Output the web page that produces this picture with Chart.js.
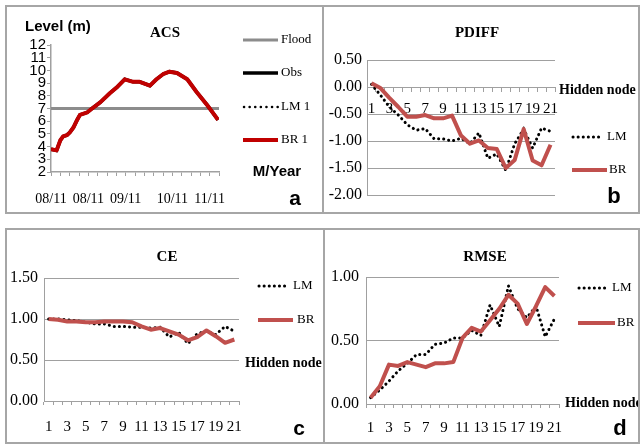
<!DOCTYPE html>
<html>
<head>
<meta charset="utf-8">
<script src="https://cdn.jsdelivr.net/npm/chart.js@4.4.1/dist/chart.umd.min.js"></script>
<style>
  html, body { margin: 0; padding: 0; background: #fff; }
  body { width: 640px; height: 446px; position: relative; overflow: hidden; }
  canvas { position: absolute; }
  .frame { position: absolute; box-sizing: border-box; border: 2px solid #a6a6a6; pointer-events: none; }
</style>
</head>
<body>
<canvas id="ca" width="317" height="207" style="left:6px;top:6px"></canvas>
<canvas id="cb" width="317" height="207" style="left:322px;top:6px"></canvas>
<canvas id="cc" width="318" height="215" style="left:6px;top:228px"></canvas>
<canvas id="cd" width="316" height="215" style="left:323px;top:228px"></canvas>
<div class="frame" style="left:5px;top:5px;width:319px;height:209px"></div>
<div class="frame" style="left:322px;top:5px;width:318px;height:209px"></div>
<div class="frame" style="left:5px;top:228px;width:320px;height:216px"></div>
<div class="frame" style="left:323px;top:228px;width:317px;height:216px"></div>
<script>
// ---------------- DATA ----------------
// Panel a: ACS water level (m) vs time (tick index along the M/Year axis)
const acsTime  = [0, 0.6, 1.0, 1.3, 1.7, 2.0, 2.4, 2.8, 3.1, 3.9, 4.4, 5.3, 6.3, 7.1, 7.9, 8.8, 9.5, 10.6, 11.3, 12.0, 12.7, 13.5, 14.6, 15.6, 16.7, 17.9];
const acsObs   = [3.8, 3.7, 4.5, 4.8, 4.9, 5.1, 5.5, 6.1, 6.5, 6.7, 7.0, 7.5, 8.2, 8.7, 9.3, 9.1, 9.1, 8.8, 9.3, 9.7, 9.9, 9.8, 9.3, 8.3, 7.3, 6.1];
const acsLM1   = [3.8, 3.7, 4.5, 4.8, 4.9, 5.1, 5.5, 6.1, 6.5, 6.7, 7.0, 7.5, 8.2, 8.7, 9.3, 9.1, 9.1, 8.8, 9.3, 9.7, 9.9, 9.8, 9.3, 8.3, 7.3, 6.1];
const acsBR1   = [3.8, 3.7, 4.5, 4.8, 4.9, 5.1, 5.5, 6.1, 6.5, 6.7, 7.0, 7.5, 8.2, 8.7, 9.3, 9.1, 9.1, 8.8, 9.3, 9.7, 9.9, 9.8, 9.3, 8.3, 7.3, 6.1];
const floodLevel = 7;
const acsTickLabels = ['08/11','','','','08/11','','','','09/11','','','','','10/11','','','','11/11',''];

// Panels b-d: hidden node counts
const hiddenNodes = ['1','2','3','4','5','6','7','8','9','10','11','12','13','14','15','16','17','18','19','20','21'];

const pdiffLM = [0.05, -0.15, -0.37, -0.52, -0.70, -0.80, -0.77, -0.96, -0.96, -1.00, -0.95, -1.05, -0.85, -1.32, -1.24, -1.54, -1.05, -0.78, -1.13, -0.76, -0.82];
const pdiffBR = [0.07, -0.02, -0.20, -0.37, -0.55, -0.55, -0.52, -0.58, -0.58, -0.53, -0.90, -1.05, -0.99, -1.13, -1.15, -1.50, -1.35, -0.78, -1.36, -1.45, -1.07];

const ceLM = [1.00, 1.00, 0.99, 0.98, 0.96, 0.94, 0.94, 0.91, 0.91, 0.90, 0.90, 0.89, 0.90, 0.78, 0.84, 0.70, 0.82, 0.85, 0.81, 0.91, 0.85];
const ceBR = [1.00, 0.99, 0.97, 0.97, 0.96, 0.96, 0.97, 0.97, 0.97, 0.96, 0.91, 0.87, 0.89, 0.85, 0.81, 0.74, 0.78, 0.86, 0.79, 0.71, 0.75];

const rmseLM = [0.05, 0.11, 0.18, 0.26, 0.32, 0.39, 0.39, 0.47, 0.48, 0.52, 0.52, 0.58, 0.54, 0.78, 0.61, 0.93, 0.75, 0.68, 0.77, 0.53, 0.67];
const rmseBR = [0.05, 0.14, 0.31, 0.30, 0.33, 0.31, 0.29, 0.32, 0.32, 0.33, 0.52, 0.60, 0.57, 0.66, 0.75, 0.86, 0.79, 0.63, 0.77, 0.92, 0.85];

// ---------------- STYLE ----------------
Chart.defaults.font.family = "'Liberation Serif', 'Times New Roman', serif";
Chart.defaults.color = '#000';
Chart.defaults.animation = false;
const GRAY = '#a0a0a0';
const SERIF = "'Liberation Serif', 'Times New Roman', serif";
const SANS = "'Liberation Sans Narrow', 'Liberation Sans', Arial, sans-serif";

function decorPlugin(cfg) {
  return {
    id: 'decor',
    afterDraw(chart) {
      const ctx = chart.ctx;
      ctx.save();
      (cfg.legend || []).forEach(it => {
        const ds = chart.data.datasets[it.i];
        ctx.save();
        ctx.strokeStyle = ds.borderColor;
        ctx.lineWidth = ds.borderWidth;
        ctx.setLineDash(ds.borderDash || []);
        ctx.lineCap = ds.borderCapStyle || 'butt';
        ctx.beginPath();
        ctx.moveTo(it.x1, it.y);
        ctx.lineTo(it.x2, it.y);
        ctx.stroke();
        ctx.restore();
        ctx.fillStyle = '#000';
        ctx.font = cfg.legendFont;
        ctx.textAlign = 'left';
        ctx.textBaseline = 'middle';
        ctx.fillText(ds.label, it.tx, it.y);
      });
      (cfg.texts || []).forEach(t => {
        ctx.fillStyle = '#000';
        ctx.font = t.font;
        ctx.textAlign = t.align || 'center';
        ctx.textBaseline = 'middle';
        ctx.fillText(t.text, t.x, t.y);
      });
      ctx.restore();
    }
  };
}

function lmDataset(label, data) {
  return { label, data, borderColor: '#000', borderWidth: 3, borderDash: [0.1, 5], borderCapStyle: 'round',
           pointRadius: 0, fill: false, order: 1 };
}
function brDataset(label, data, color) {
  return { label, data, borderColor: color || '#c0504d', borderWidth: 4, pointRadius: 0, fill: false,
           order: 0, borderJoinStyle: 'round' };
}

// ---------------- PANEL a ----------------
const pts = arr => acsTime.map((t, i) => ({ x: t, y: arr[i] }));
new Chart(document.getElementById('ca'), {
  type: 'line',
  data: {
    datasets: [
      { label: 'Flood', data: [{ x: 0, y: floodLevel }, { x: 18, y: floodLevel }], borderColor: '#8c8c8c',
        borderWidth: 3, pointRadius: 0, order: 3 },
      { label: 'Obs', data: pts(acsObs), borderColor: '#000', borderWidth: 3.5, pointRadius: 0, order: 2 },
      Object.assign(lmDataset('LM 1', pts(acsLM1)), { borderWidth: 2.5, borderDash: [0.1, 5.5], order: 1 }),
      Object.assign(brDataset('BR 1', pts(acsBR1), '#c00000'), { borderWidth: 4, order: 0 })
    ]
  },
  options: {
    responsive: false,
    devicePixelRatio: 1,
    layout: { padding: { left: 0, top: 39, right: 104, bottom: 0 } },
    plugins: { legend: { display: false }, tooltip: { enabled: false } },
    scales: {
      x: {
        type: 'linear', min: 0, max: 18,
        afterFit: s => { s.height = 41; },
        border: { color: GRAY, width: 1.5 },
        grid: { drawOnChartArea: false, drawTicks: true, tickLength: 4, color: GRAY },
        ticks: { stepSize: 1, autoSkip: false, maxRotation: 0, padding: 15,
                 font: { family: SERIF, size: 14 },
                 callback: (v, i) => acsTickLabels[i] }
      },
      y: {
        min: 2, max: 12,
        afterFit: s => { s.width = 45; },
        border: { color: GRAY, width: 1.5 },
        grid: { drawOnChartArea: false, drawTicks: true, tickLength: 4, color: GRAY },
        ticks: { stepSize: 1, autoSkip: false, padding: 1, font: { family: SANS, size: 15 } }
      }
    }
  },
  plugins: [decorPlugin({
    legendFont: '13px ' + SERIF,
    legend: [
      { i: 0, x1: 237, x2: 272, y: 34, tx: 275 },
      { i: 1, x1: 237, x2: 272, y: 67, tx: 275 },
      { i: 2, x1: 238, x2: 272, y: 101, tx: 275 },
      { i: 3, x1: 237, x2: 272, y: 134, tx: 275 }
    ],
    texts: [
      { text: 'ACS', x: 159, y: 27, font: 'bold 15px ' + SERIF },
      { text: 'Level (m)', x: 19, y: 21, align: 'left', font: 'bold 15px ' + SANS },
      { text: 'M/Year', x: 271, y: 166, font: 'bold 15px ' + SANS },
      { text: 'a', x: 289, y: 193, font: 'bold 21px ' + SANS }
    ]
  })]
});

// ---------------- common for b, c, d ----------------
function nodeChart(id, lm, br, opt) {
  return new Chart(document.getElementById(id), {
    type: 'line',
    data: {
      labels: hiddenNodes,
      datasets: [lmDataset('LM', lm), brDataset('BR', br)]
    },
    options: {
      responsive: false,
      devicePixelRatio: 1,
      layout: { padding: opt.padding },
      plugins: { legend: { display: false }, tooltip: { enabled: false } },
      scales: {
        x: Object.assign({
          type: 'category', offset: true,
          border: { color: GRAY, width: 1 },
          grid: { drawOnChartArea: false, drawTicks: true, tickLength: 4, color: GRAY, offset: true },
          ticks: { autoSkip: false, maxRotation: 0, padding: opt.xPad, font: { family: SERIF, size: 15 },
                   callback: (v, i) => (i % 2 === 0 ? hiddenNodes[i] : '') }
        }, opt.x || {}),
        y: {
          min: opt.min, max: opt.max,
          afterFit: s => { s.width = opt.yWidth; },
          border: { color: GRAY, width: 1 },
          grid: { drawTicks: false, color: GRAY, lineWidth: 1 },
          ticks: { stepSize: 0.5, autoSkip: false, padding: opt.yPad, font: { family: SERIF, size: 16 },
                   callback: v => v.toFixed(2) }
        }
      }
    },
    plugins: [decorPlugin(opt.decor)]
  });
}

// ---------------- PANEL b ----------------
nodeChart('cb', pdiffLM, pdiffBR, {
  padding: { left: 0, top: 54, right: 84, bottom: 18 },
  min: -2, max: 0.5, yWidth: 45, yPad: 5, xPad: 9,
  x: { position: { y: 0 } },
  decor: {
    legendFont: '13px ' + SERIF,
    legend: [
      { i: 0, x1: 251, x2: 281, y: 131, tx: 285 },
      { i: 1, x1: 250, x2: 285, y: 164, tx: 287 }
    ],
    texts: [
      { text: 'PDIFF', x: 155, y: 27, font: 'bold 15px ' + SERIF },
      { text: 'Hidden node', x: 237, y: 84, align: 'left', font: 'bold 14px ' + SERIF },
      { text: 'b', x: 292, y: 191, font: 'bold 22px ' + SANS }
    ]
  }
});

// ---------------- PANEL c ----------------
nodeChart('cc', ceLM, ceBR, {
  padding: { left: 0, top: 50, right: 85, bottom: 0 },
  min: 0, max: 1.5, yWidth: 38, yPad: 6, xPad: 13,
  x: { afterFit: s => { s.height = 42; } },
  decor: {
    legendFont: '13px ' + SERIF,
    legend: [
      { i: 0, x1: 253, x2: 282, y: 58, tx: 287 },
      { i: 1, x1: 252, x2: 287, y: 92, tx: 291 }
    ],
    texts: [
      { text: 'CE', x: 161, y: 29, font: 'bold 15px ' + SERIF },
      { text: 'Hidden node', x: 239, y: 135, align: 'left', font: 'bold 14px ' + SERIF },
      { text: 'c', x: 293, y: 201, font: 'bold 21px ' + SANS }
    ]
  }
});

// ---------------- PANEL d ----------------
nodeChart('cd', rmseLM, rmseBR, {
  padding: { left: 0, top: 49, right: 80, bottom: 0 },
  min: 0, max: 1, yWidth: 43, yPad: 7, xPad: 11,
  x: { afterFit: s => { s.height = 39; } },
  decor: {
    legendFont: '13px ' + SERIF,
    legend: [
      { i: 0, x1: 256, x2: 284, y: 60, tx: 289 },
      { i: 1, x1: 255, x2: 292, y: 95, tx: 294 }
    ],
    texts: [
      { text: 'RMSE', x: 162, y: 29, font: 'bold 15px ' + SERIF },
      { text: 'Hidden node', x: 242, y: 175, align: 'left', font: 'bold 14px ' + SERIF },
      { text: 'd', x: 297, y: 201, font: 'bold 22px ' + SANS }
    ]
  }
});
</script>
</body>
</html>
